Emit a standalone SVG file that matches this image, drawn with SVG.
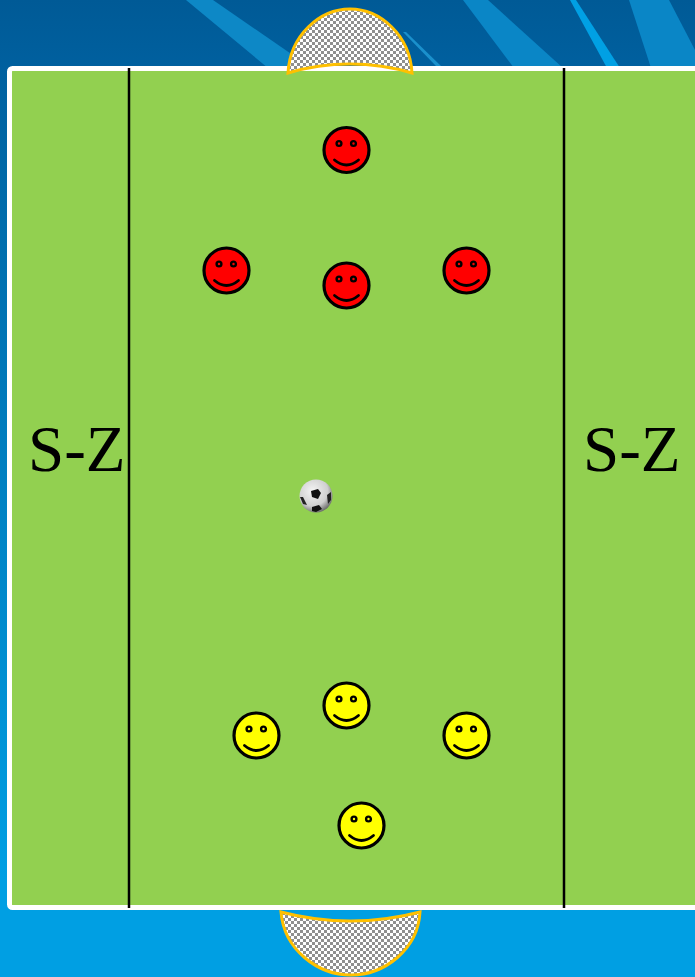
<svg xmlns="http://www.w3.org/2000/svg" width="695" height="977" viewBox="0 0 695 977">
<style>
.goal{fill:url(#net);stroke:#ffc000;stroke-width:3;stroke-linejoin:miter}
.face{stroke:#000;stroke-width:3.200}
.red{fill:#f00}
.yel{fill:#ff0}
.eye{fill:none;stroke:#000;stroke-width:2.400}
.mouth{fill:none;stroke:#000;stroke-width:2.800;stroke-linecap:round}
.lbl{font-family:"Liberation Serif","Times New Roman",serif;font-size:65px;fill:#000}
.zone{stroke:#000;stroke-width:2.500}
</style>
<defs>
<linearGradient id="bg" x1="0" y1="0" x2="0" y2="1">
<stop offset="0" stop-color="#005a96"/>
<stop offset="0.07" stop-color="#00609f"/>
<stop offset="0.9" stop-color="#009fe3"/>
<stop offset="1" stop-color="#009fe3"/>
</linearGradient>
<pattern id="net" width="6" height="6" patternUnits="userSpaceOnUse">
<rect width="6" height="6" fill="#fff"/>
<rect x="0" y="0" width="3" height="3" fill="#8f8f8f"/>
<rect x="3" y="3" width="3" height="3" fill="#8f8f8f"/>
</pattern>
<radialGradient id="ballg" cx="0.4" cy="0.35" r="0.7">
<stop offset="0" stop-color="#f4f4f4"/>
<stop offset="0.65" stop-color="#cfcfcf"/>
<stop offset="1" stop-color="#5e5e5e"/>
</radialGradient>
<g id="smile">
<circle class="eye" cx="-7.500" cy="-6.500" r="2.400"/>
<circle class="eye" cx="7" cy="-6.500" r="2.400"/>
<path class="mouth" d="M-12,10 Q0,20 12,10"/>
</g>
</defs>
<g id="background">
<rect width="695" height="977" fill="url(#bg)"/>
<polygon points="186,0 213,0 300,60 300,68 268,68" fill="#0d88c6"/>
<polygon points="403,32 406,32 441,66 436,66" fill="#1a90cc"/>
<polygon points="463,0 488,0 563,68 514,68" fill="#0a86c6"/>
<polygon points="570,0 576,0 620,68 607,68" fill="#00a0e4"/>
<polygon points="629,0 669,0 695,50 695,68 651,68" fill="#0a86c6"/>
</g>
<g id="field">
<rect x="9.500" y="68.500" width="700" height="839" rx="3" fill="#92d050" stroke="#fff" stroke-width="5"/>
</g>
<g id="connectors">
<line class="zone" x1="129" y1="68" x2="129" y2="908"/>
<line class="zone" x1="564" y1="68" x2="564" y2="908"/>
</g>
<g id="goal-top">
<path class="goal" d="M288,73 C290,35 320,9 350,9 C380,9 410,35 412,73 C372,61 328,61 288,73 Z"/>
</g>
<g id="goal-bottom">
<path class="goal" d="M281,912 C284,950 318,975 351,975 C384,975 418,950 420,912 C375,924 326,924 281,912 Z"/>
</g>
<g id="label-left"><text class="lbl" x="28" y="471">S-Z</text></g>
<g id="label-right"><text class="lbl" x="583" y="471">S-Z</text></g>
<g id="red-1" transform="translate(346.500,150)"><circle class="face red" r="22.500"/><use href="#smile"/></g>
<g id="red-2" transform="translate(226.500,270.500)"><circle class="face red" r="22.500"/><use href="#smile"/></g>
<g id="red-3" transform="translate(346.500,285.500)"><circle class="face red" r="22.500"/><use href="#smile"/></g>
<g id="red-4" transform="translate(466.500,270.500)"><circle class="face red" r="22.500"/><use href="#smile"/></g>
<g id="yellow-1" transform="translate(346.500,705.500)"><circle class="face yel" r="22.500"/><use href="#smile"/></g>
<g id="yellow-2" transform="translate(256.500,735.500)"><circle class="face yel" r="22.500"/><use href="#smile"/></g>
<g id="yellow-3" transform="translate(466.500,735.500)"><circle class="face yel" r="22.500"/><use href="#smile"/></g>
<g id="yellow-4" transform="translate(361.500,825.500)"><circle class="face yel" r="22.500"/><use href="#smile"/></g>
<g id="ball">
<circle cx="316" cy="496" r="16.500" fill="url(#ballg)"/>
<polygon points="311,491 318,489 321,493 318,499 312,497" fill="#111"/>
<polygon points="300,497 303,497 307,505 303,504" fill="#222"/>
<polygon points="327,495 331,492 331,500 328,504" fill="#222"/>
<polygon points="312,507 319,505 322,509 316,512 312,511" fill="#111"/>
</g>
</svg>
